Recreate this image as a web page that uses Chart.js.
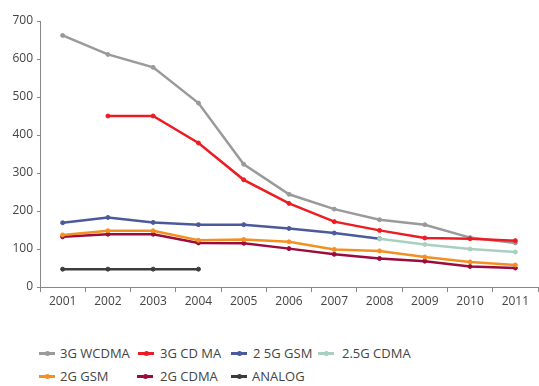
<!DOCTYPE html>
<html>
<head>
<meta charset="utf-8">
<script src="https://cdn.jsdelivr.net/npm/chart.js@4/dist/chart.umd.min.js"></script>
<style>
  html, body { margin: 0; padding: 0; background: #fff; overflow: hidden; width: 539px; height: 386px; }
  #wrap { position: absolute; left: 0; top: 0; width: 541px; height: 320px; }
  .leg { position: absolute; font-family: "Open Sans", sans-serif; font-size: 13px; color: #444; white-space: nowrap; line-height: 16px; }
  .mk { position: absolute; width: 16px; height: 3px; }
  .mk i { position: absolute; left: 5.5px; top: -1px; width: 5px; height: 5px; border-radius: 50%; background: inherit; }
</style>
</head>
<body>
<div id="wrap"><canvas id="c"></canvas></div>
<div id="legend"></div>
<script>
const years = ['2001','2002','2003','2004','2005','2006','2007','2008','2009','2010','2011'];
const wcdma3g   = [662, 612, 578, 484, 323, 244, 205, 177, 164, 130, 116];
const cdma3g    = [null, 450, 450, 379, 282, 220, 172, 149, 129, 127, 122];
const gsm25g    = [169, 183, 170, 164, 164, 154, 142, 127, null, null, null];
const cdma25g   = [null, null, null, null, null, null, null, 127, 112, 100, 92];
const gsm2g     = [137, 148, 148, 123, 125, 119, 99, 95, 79, 66, 58];
const cdma2g    = [132, 139, 139, 116, 115, 101, 86, 75, 68, 54, 50];
const analog    = [47, 47, 47, 47, null, null, null, null, null, null, null];
const yTicks    = [0, 100, 200, 300, 400, 500, 600, 700];

const series = [
  { label: '3G WCDMA',  data: wcdma3g, color: '#9a9a9a', order: 5 },
  { label: '3G CD MA',  data: cdma3g,  color: '#ec1c24', order: 1 },
  { label: '2 5G GSM',  data: gsm25g,  color: '#4b5a9b', order: 4 },
  { label: '2.5G CDMA', data: cdma25g, color: '#a8cfc0', order: 3 },
  { label: '2G GSM',    data: gsm2g,   color: '#f39022', order: 2 },
  { label: '2G CDMA',   data: cdma2g,  color: '#9b0c3c', order: 6 },
  { label: 'ANALOG',    data: analog,  color: '#3c3c3c', order: 7 }
];

const font = { family: '"Open Sans", sans-serif', size: 12 };
new Chart(document.getElementById('c'), {
  type: 'line',
  data: {
    labels: years,
    datasets: series.map(s => ({
      label: s.label, data: s.data, order: s.order,
      borderColor: s.color, backgroundColor: s.color,
      pointBackgroundColor: s.color, pointBorderColor: s.color,
      borderWidth: 2.5, pointRadius: 2, pointBorderWidth: 1, pointHoverRadius: 2, tension: 0,
      spanGaps: false
    }))
  },
  options: {
    responsive: true, maintainAspectRatio: false, animation: false,
    events: [],
    layout: { padding: { top: 21, right: 0, bottom: 0, left: 0 } },
    plugins: { legend: { display: false }, tooltip: { enabled: false } },
    scales: {
      x: {
        offset: true,
        grid: { offset: true, drawOnChartArea: false, drawTicks: true, tickLength: 5, color: '#888' },
        border: { display: true, color: '#888', width: 1 },
        ticks: { font: font, color: '#444', padding: 2, maxRotation: 0, autoSkip: false },
        afterFit: s => { s.height = 33; }
      },
      y: {
        min: 0, max: 700,
        afterBuildTicks: s => { s.ticks = yTicks.map(v => ({ value: v })); },
        grid: { drawOnChartArea: false, drawTicks: true, tickLength: 3, color: '#888' },
        border: { display: true, color: '#888', width: 1 },
        ticks: { font: font, color: '#444', padding: 4 },
        afterFit: s => { s.width = 40; }
      }
    }
  }
});

const legendPos = [
  [39, 353, 60], [138, 353, 160], [231, 353, 253], [318, 353, 342],
  [39, 376, 60], [137, 376, 160], [231, 376, 252]
];
const lg = document.getElementById('legend');
series.forEach((s, i) => {
  const [mx, y, tx] = legendPos[i];
  const mk = document.createElement('div');
  mk.className = 'mk';
  mk.style.left = mx + 'px'; mk.style.top = (y - 1.5) + 'px'; mk.style.background = s.color;
  mk.appendChild(document.createElement('i'));
  lg.appendChild(mk);
  const t = document.createElement('div');
  t.className = 'leg';
  t.style.left = tx + 'px'; t.style.top = (y - 8) + 'px';
  t.textContent = s.label;
  lg.appendChild(t);
});
</script>
</body>
</html>
